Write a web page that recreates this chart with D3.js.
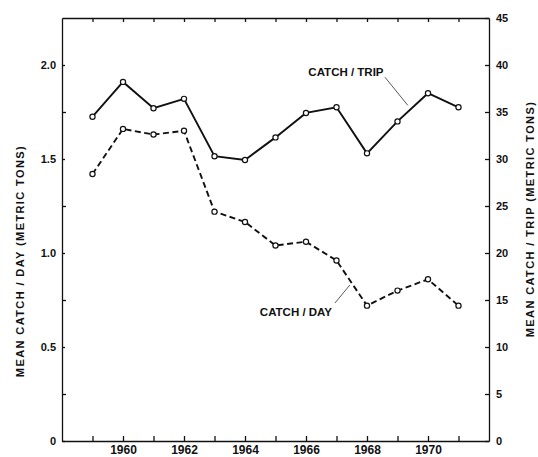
<!DOCTYPE html>
<html lang="en">
<head>
    <meta charset="UTF-8">
    <title>Mean catch per day and per trip</title>
    <script src="https://d3js.org/d3.v7.min.js"></script>
    <style>
        body {
            margin: 0;
            background: white;
        }
        svg text {
            font-family: "Liberation Sans", Arial, sans-serif;
            font-weight: bold;
            fill: #111;
        }
        .axis path,
        .axis line {
            stroke: #111;
            stroke-width: 1.3;
        }
        .axis text {
            font-size: 11px;
        }
        .x-axis text {
            font-size: 12px;
        }
        .title {
            font-size: 11px;
            letter-spacing: 1.4px;
        }
        .label {
            font-size: 11.5px;
        }
        .leader {
            stroke: #111;
            stroke-width: 0.7;
        }
    </style>
</head>
<body>
<svg id="chart" width="538" height="457"></svg>
<script>
    // years on the x axis
    const years = [1959, 1960, 1961, 1962, 1963, 1964, 1965, 1966, 1967, 1968, 1969, 1970, 1971];
    // mean catch per trip, metric tons (right axis)
    const catchPerTrip = [34.5, 38.2, 35.4, 36.4, 30.3, 29.9, 32.3, 34.9, 35.5, 30.6, 34.0, 37.0, 35.5];
    // mean catch per day, metric tons (left axis)
    const catchPerDay = [1.42, 1.66, 1.63, 1.65, 1.22, 1.165, 1.04, 1.06, 0.96, 0.72, 0.80, 0.86, 0.72];

    const xLabelYears = [1960, 1962, 1964, 1966, 1968, 1970];
    const leftTicks = [0, 0.5, 1.0, 1.5, 2.0];
    const leftMinorTicks = [0.25, 0.75, 1.25, 1.75];
    const rightTicks = [0, 5, 10, 15, 20, 25, 30, 35, 40, 45];

    const svg = d3.select("#chart");
    const margin = {left: 62, right: 49, top: 18, bottom: 16};
    const width = 538, height = 457;

    const x = d3.scaleLinear().domain([1958, 1972]).range([margin.left, width - margin.right]);
    const yDay = d3.scaleLinear().domain([0, 2.25]).range([height - margin.bottom, margin.top]);
    const yTrip = d3.scaleLinear().domain([0, 45]).range([height - margin.bottom, margin.top]);

    // bottom axis: tick every year, label every other
    svg.append("g")
        .attr("class", "axis x-axis")
        .attr("transform", `translate(0,${yDay(0)})`)
        .call(d3.axisBottom(x).tickValues(years).tickSize(-5).tickSizeOuter(0).tickPadding(4)
            .tickFormat(d => xLabelYears.includes(d) ? d : ""));

    // top axis, ticks only
    svg.append("g")
        .attr("class", "axis")
        .attr("transform", `translate(0,${yDay(2.25)})`)
        .call(d3.axisTop(x).tickValues(years).tickSize(-4).tickSizeOuter(0).tickFormat(""));

    // left axis
    svg.append("g")
        .attr("class", "axis")
        .attr("transform", `translate(${x(1958)},0)`)
        .call(d3.axisLeft(yDay).tickValues(leftTicks).tickSize(-3).tickSizeOuter(0).tickPadding(6)
            .tickFormat(d => d === 0 ? "0" : d3.format(".1f")(d)));

    svg.append("g")
        .attr("class", "axis")
        .attr("transform", `translate(${x(1958)},0)`)
        .call(d3.axisLeft(yDay).tickValues(leftMinorTicks).tickSize(-4).tickFormat(""))
        .call(g => g.select(".domain").remove());

    // right axis
    svg.append("g")
        .attr("class", "axis")
        .attr("transform", `translate(${x(1972)},0)`)
        .call(d3.axisRight(yTrip).tickValues(rightTicks).tickSize(-4).tickSizeOuter(0).tickPadding(7));

    // axis titles
    svg.append("text")
        .attr("class", "title")
        .attr("transform", `translate(20,261) rotate(-90)`)
        .attr("text-anchor", "middle")
        .attr("dy", "0.35em")
        .text("MEAN CATCH / DAY (METRIC TONS)");

    svg.append("text")
        .attr("class", "title")
        .attr("transform", `translate(530,219) rotate(-90)`)
        .attr("text-anchor", "middle")
        .attr("dy", "0.35em")
        .text("MEAN CATCH / TRIP (METRIC TONS)");

    // lines
    const tripLine = d3.line().x((d, i) => x(years[i])).y(d => yTrip(d));
    const dayLine = d3.line().x((d, i) => x(years[i])).y(d => yDay(d));

    svg.append("path")
        .datum(catchPerTrip)
        .attr("d", tripLine)
        .attr("fill", "none")
        .attr("stroke", "#111")
        .attr("stroke-width", 1.9);

    svg.append("path")
        .datum(catchPerDay)
        .attr("d", dayLine)
        .attr("fill", "none")
        .attr("stroke", "#111")
        .attr("stroke-width", 1.9)
        .attr("stroke-dasharray", "6,3.5");

    // open circle markers
    svg.append("g").selectAll("circle")
        .data(catchPerTrip)
        .join("circle")
        .attr("cx", (d, i) => x(years[i]))
        .attr("cy", d => yTrip(d))
        .attr("r", 2.6)
        .attr("fill", "white")
        .attr("stroke", "#111")
        .attr("stroke-width", 1.2);

    svg.append("g").selectAll("circle")
        .data(catchPerDay)
        .join("circle")
        .attr("cx", (d, i) => x(years[i]))
        .attr("cy", d => yDay(d))
        .attr("r", 2.6)
        .attr("fill", "white")
        .attr("stroke", "#111")
        .attr("stroke-width", 1.2);

    // series labels with leader lines
    svg.append("text")
        .attr("class", "label")
        .attr("x", x(1967.31))
        .attr("y", yTrip(39.3))
        .attr("text-anchor", "middle")
        .attr("dy", "0.35em")
        .text("CATCH / TRIP");

    svg.append("line")
        .attr("class", "leader")
        .attr("x1", x(1968.59)).attr("y1", yTrip(38.7))
        .attr("x2", x(1969.34)).attr("y2", yTrip(35.7));

    svg.append("text")
        .attr("class", "label")
        .attr("x", x(1965.67))
        .attr("y", yDay(0.686))
        .attr("text-anchor", "middle")
        .attr("dy", "0.35em")
        .text("CATCH / DAY");

    svg.append("line")
        .attr("class", "leader")
        .attr("x1", x(1966.95)).attr("y1", yDay(0.734))
        .attr("x2", x(1967.44)).attr("y2", yDay(0.83));
</script>
</body>
</html>
